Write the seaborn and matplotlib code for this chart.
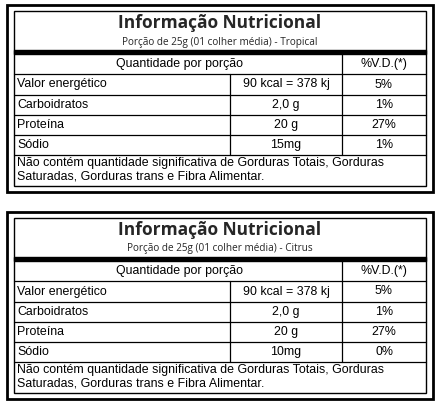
import matplotlib
matplotlib.use("Agg")
import matplotlib.pyplot as plt
import seaborn as sns

sns.set_theme(style="white")

subtitles = ["Porção de 25g (01 colher média) - Tropical",
             "Porção de 25g (01 colher média) - Citrus"]
nutrients = ["Valor energético", "Carboidratos", "Proteína", "Sódio"]
amounts = [["90 kcal = 378 kj", "2,0 g", "20 g", "15mg"],
           ["90 kcal = 378 kj", "2,0 g", "20 g", "10mg"]]
daily = [["5%", "1%", "27%", "1%"],
         ["5%", "1%", "27%", "0%"]]
note = "Não contém quantidade significativa de Gorduras Totais, Gorduras\nSaturadas, Gorduras trans e Fibra Alimentar."

fig = plt.figure(figsize=(4.4, 4.03), dpi=100)
ax = fig.add_axes([0, 0, 1, 1])
ax.set_xlim(0, 440)
ax.set_ylim(403, 0)
ax.axis("off")

body = dict(family=["Liberation Sans", "DejaVu Sans"], fontsize=8.9, color="black")

for t in range(2):
    o = t * 207
    # outer & inner boxes
    ax.add_patch(plt.Rectangle((7, 5 + o), 426, 187, fill=False, lw=2, ec="black"))
    ax.add_patch(plt.Rectangle((14, 11 + o), 412, 175, fill=False, lw=1, ec="black"))
    ax.add_patch(plt.Rectangle((14, 50 + o), 412, 4, color="black"))
    ax.text(220, 23 + o, "Informação Nutricional", ha="center", va="center",
            family=["Open Sans", "DejaVu Sans"], fontweight="bold", fontsize=12.5)
    ax.text(220, 42 + o, subtitles[t], ha="center", va="center",
            family=["Open Sans", "DejaVu Sans"], fontsize=7.2)
    rows = [54, 74, 95, 115, 135, 155]
    for y in rows[1:]:
        ax.plot([14, 426], [y + o, y + o], color="black", lw=0.9)
    ax.plot([342, 342], [54 + o, 155 + o], color="black", lw=0.9)
    ax.plot([230, 230], [74 + o, 155 + o], color="black", lw=0.9)
    ax.text(180, 64 + o, "Quantidade por porção", ha="center", va="center", **body)
    ax.text(384, 64 + o, "%V.D.(*)", ha="center", va="center", **body)
    for i in range(len(nutrients)):
        yc = (rows[i + 1] + rows[i + 2]) / 2 + o
        ax.text(17, yc, nutrients[i], ha="left", va="center", **body)
        ax.text(286, yc, amounts[t][i], ha="center", va="center", **body)
        ax.text(384, yc, daily[t][i], ha="center", va="center", **body)
    ax.text(17, 170 + o, note, ha="left", va="center", linespacing=1.2, **body)

fig.savefig("out.png", dpi=100)
